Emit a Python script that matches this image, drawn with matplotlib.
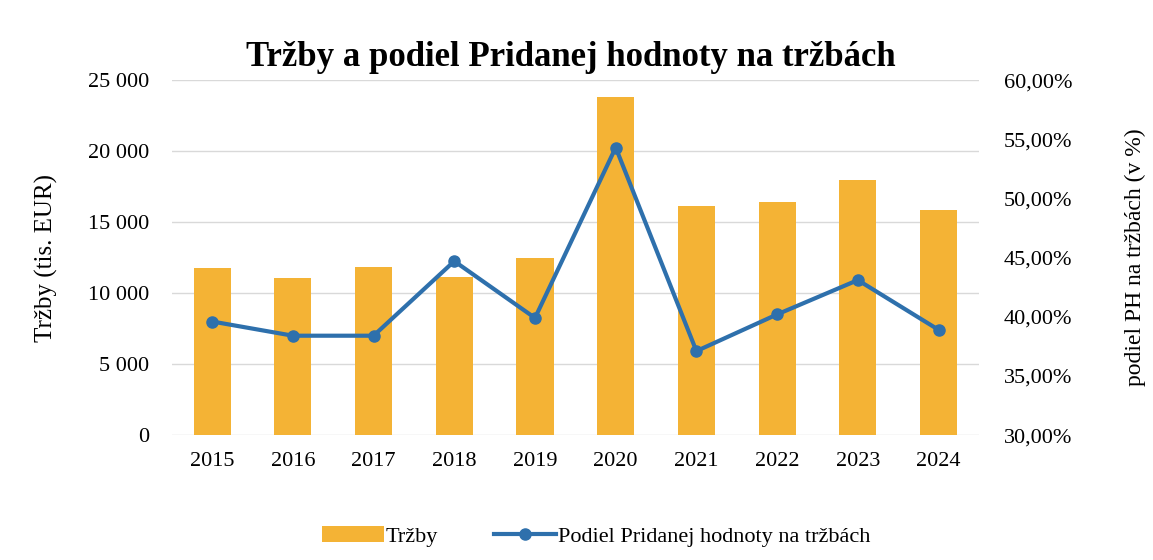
import numpy as np
import matplotlib
matplotlib.use('Agg')
import matplotlib.pyplot as plt
from matplotlib.ticker import FuncFormatter

plt.rcParams['font.family'] = ['Liberation Serif', 'DejaVu Serif']

# Data
roky = ['2015', '2016', '2017', '2018', '2019', '2020', '2021', '2022', '2023', '2024']
trzby = [11800, 11050, 11850, 11100, 12450, 23800, 16100, 16450, 17950, 15850]
podiel_ph = [39.6, 38.4, 38.4, 44.7, 39.9, 54.3, 37.1, 40.2, 43.1, 38.9]

bar_color = '#F4B335'
line_color = '#2E70AC'

fig = plt.figure(figsize=(11.53, 5.6), dpi=100)
ax = fig.add_axes([0.149, 0.223, 0.70, 0.634])
ax2 = ax.twinx()

x = np.arange(len(roky))
ax.bar(x, trzby, width=0.46, color=bar_color, label='Tržby', zorder=2)
ax2.plot(x, podiel_ph, color=line_color, linewidth=3, marker='o', markersize=8,
         label='Podiel Pridanej hodnoty na tržbách', zorder=3)

ax.set_xlim(-0.5, len(roky) - 0.5)
ax.set_ylim(0, 25000)
ax.set_yticks(np.arange(0, 25001, 5000))
ax.yaxis.set_major_formatter(FuncFormatter(lambda v, p: f'{int(v):,}'.replace(',', ' ')))
ax2.set_ylim(30, 60)
ax2.set_yticks(np.arange(30, 61, 5))
ax2.yaxis.set_major_formatter(FuncFormatter(lambda v, p: f'{v:.2f}'.replace('.', ',') + '%'))

ax.set_xticks(x)
ax.set_xticklabels(roky)
ax.grid(axis='y', color='#d9d9d9', linewidth=1, zorder=0)
ax.set_axisbelow(True)

for a in (ax, ax2):
    for s in a.spines.values():
        s.set_visible(False)
    a.tick_params(length=0, labelsize=16)
ax.tick_params(axis='x', pad=12)
ax.tick_params(axis='y', pad=16)
ax2.tick_params(axis='y', pad=18)

ax.set_ylabel('Tržby (tis. EUR)', fontsize=18, labelpad=22)
ax2.set_ylabel('podiel PH na tržbách (v %)', fontsize=17, labelpad=38)

fig.text(0.495, 0.897, 'Tržby a podiel Pridanej hodnoty na tržbách',
         ha='center', va='center', fontsize=25, fontweight='bold')

h1, l1 = ax.get_legend_handles_labels()
h2, l2 = ax2.get_legend_handles_labels()
fig.legend(h1 + h2, l1 + l2, loc='center', bbox_to_anchor=(0.517, 0.042), ncol=2,
           frameon=False, fontsize=16, handlelength=2.8, columnspacing=2.5, handletextpad=0.1)

plt.savefig('out.png', dpi=100)
